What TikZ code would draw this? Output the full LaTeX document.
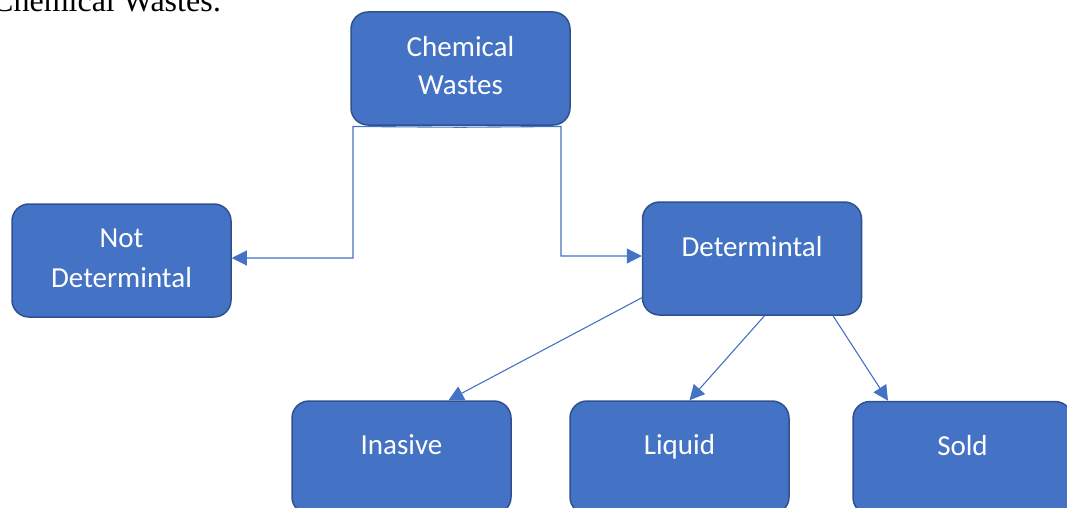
\documentclass[tikz,border=0pt]{standalone}
\usepackage{fontspec}
\setmainfont{Carlito}
\newfontfamily\titlefont{Liberation Serif}
\usetikzlibrary{arrows.meta}
\definecolor{boxfill}{HTML}{4472C4}
\definecolor{boxline}{HTML}{2F528F}
\definecolor{conncol}{HTML}{4472C4}
\begin{document}
\begin{tikzpicture}[x=1pt,y=-1pt,
  box/.style={draw=boxline, line width=1.5pt, fill=boxfill, rounded corners=17pt,
    minimum width=219pt, minimum height=113pt, inner sep=0pt},
  lbl/.style={text=white, font=\fontsize{29}{35}\selectfont, inner sep=0pt, anchor=base},
  conn/.style={draw=conncol, line width=1.1pt, -{Triangle[length=15pt,width=15pt]}}]
\useasboundingbox (0,0) rectangle (1067,508);
\clip (0,0) rectangle (1067,508);

\node[anchor=base west, inner sep=0pt, font=\titlefont\fontsize{32}{38}\selectfont] (title) at (-8,12) {Chemical Wastes:};

\node[box] (cw) at (460.5,68.5) {};
\node[lbl] (cwt1) at ([yshift=-45pt]cw.north) {Chemical};
\node[lbl] (cwt2) at ([yshift=-83pt]cw.north) {Wastes};

\node[box] (nd) at (121.5,260.5) {};
\node[lbl] (ndt1) at ([yshift=-44pt]nd.north) {Not};
\node[lbl] (ndt2) at ([yshift=-84pt]nd.north) {Determintal};

\node[box] (d) at (752,258.5) {};
\node[lbl] (dt) at ([yshift=-55pt]d.north) {Determintal};

\node[box] (in) at (401.5,457.5) {};
\node[lbl] (int) at ([yshift=-54pt]in.north) {Inasive};

\node[box] (liq) at (679.5,457.5) {};
\node[lbl] (liqt) at ([yshift=-54pt]liq.north) {Liquid};

\node[box] (sold) at (962.5,458) {};
\node[lbl] (soldt) at ([yshift=-54.5pt]sold.north) {Sold};

\draw[conn] ([yshift=-1.5pt]cw.south) -- (353,126.5) |- ([yshift=2.5pt]nd.east);
\draw[conn] ([yshift=-1.5pt]cw.south) -- (561,126.5) |- ([yshift=2.5pt]d.west);
\draw[conn] ([yshift=18pt]d.south west) -- ([xshift=47pt]in.north);
\draw[conn] ([xshift=12.5pt]d.south) -- ([xshift=10pt]liq.north);
\draw[conn] ([xshift=81pt]d.south) -- ([xshift=-74.5pt]sold.north);
\end{tikzpicture}
\end{document}
